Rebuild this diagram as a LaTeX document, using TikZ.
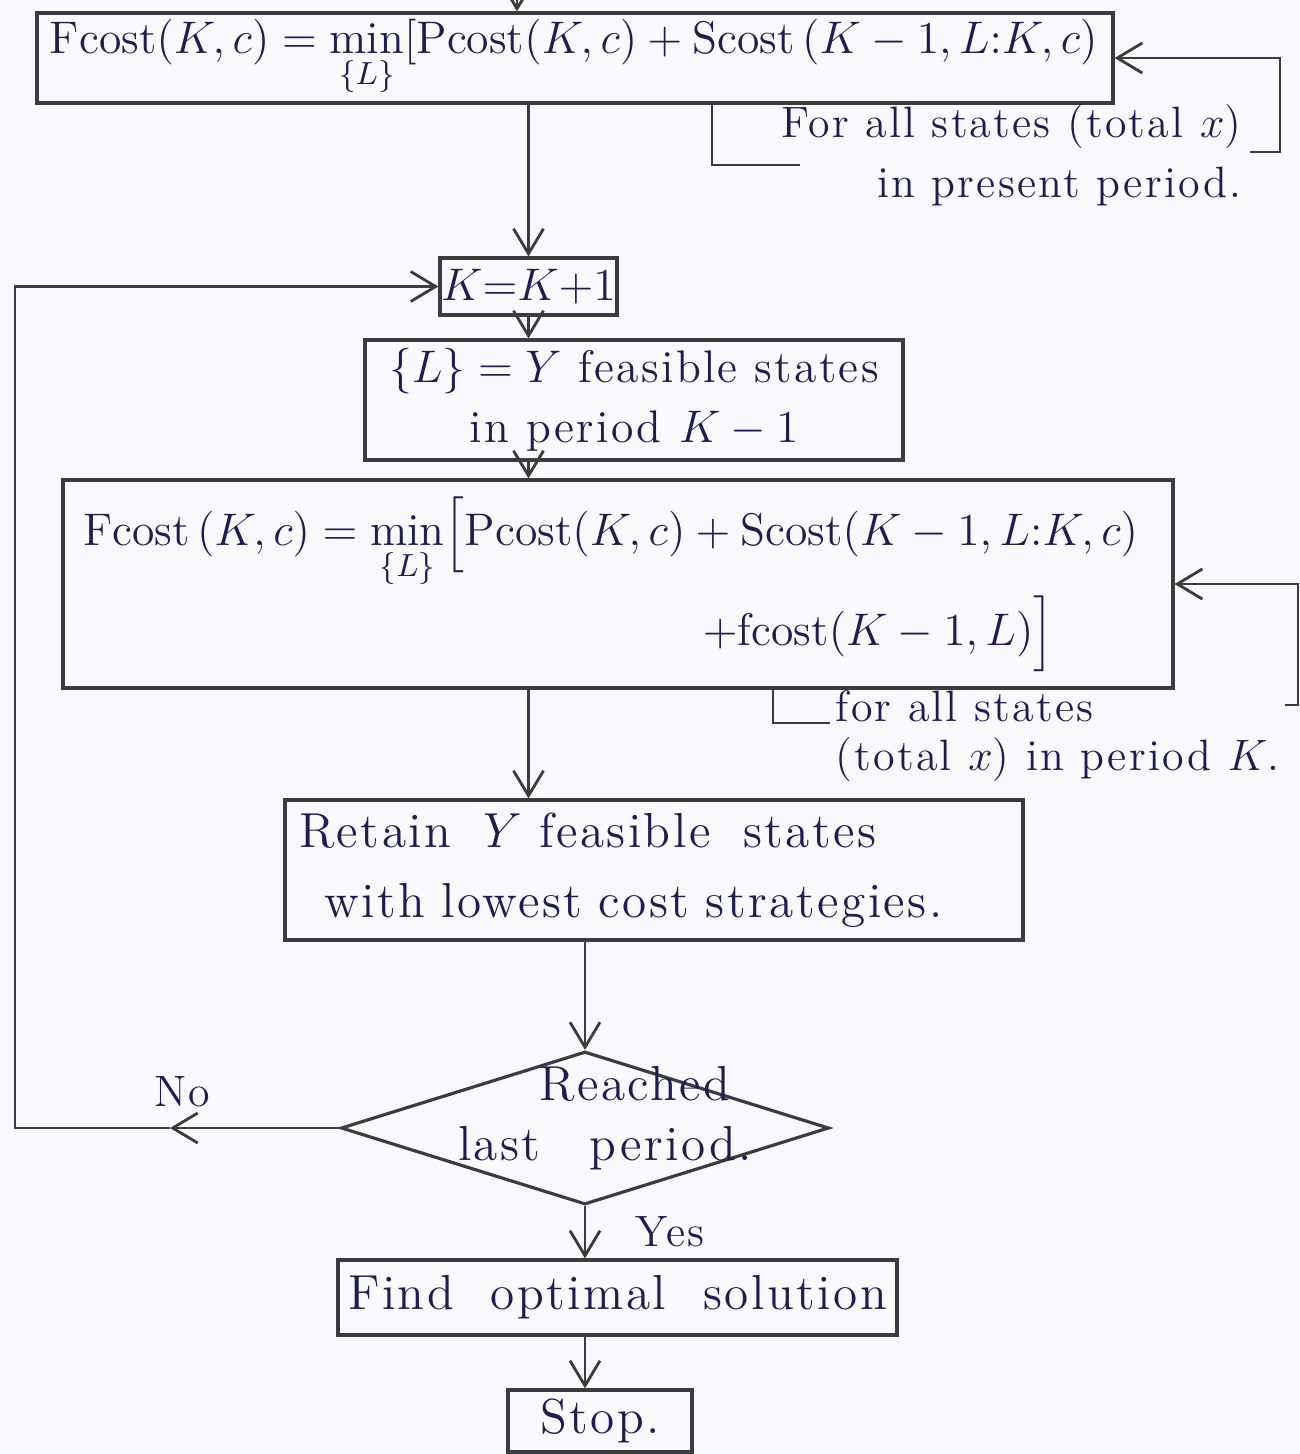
\documentclass[tikz,border=0pt]{standalone}
\usepackage{fix-cm}
\usepackage{amsmath}
\usepackage{fontspec}
\setmainfont{Latin Modern Roman}[LetterSpace=5.0]
\usetikzlibrary{arrows.meta,shapes.geometric}
\definecolor{ink}{RGB}{30,28,85}
\definecolor{pencil}{RGB}{60,60,60}
\definecolor{paper}{RGB}{249,248,253}
\tikzset{
    flowbox/.style={draw=pencil, line width=0.9pt, rectangle, inner sep=0pt, text=ink},
    decision/.style={draw=pencil, line width=0.9pt, diamond, inner sep=0pt},
    flow/.style={draw=pencil, line width=0.8pt, -{Straight Barb[length=2.5mm,width=3mm]}},
    loopline/.style={draw=pencil, line width=0.8pt},
    note/.style={text=ink, inner sep=0pt, font=\fontsize{12.5}{14}\selectfont},
    bigtext/.style={font=\fontsize{14}{20}\selectfont},
}

\begin{document}
\begin{tikzpicture}[font=\fontsize{13}{17}\selectfont]
            \fill[paper] (0,0) rectangle (13,-14.54);
            \useasboundingbox (0,0) rectangle (13,-14.54);

            \node[flowbox, minimum width=10.76cm, minimum height=0.9cm, text width=10.5cm, align=left] (top) at (5.75,-0.58)
                {$\mathrm{Fcost}(K,c)=\min\limits_{\{L\}}[\mathrm{Pcost}(K,c)+\mathrm{Scost}\,(K-1,L{:}K,c)$};
            \node[flowbox, minimum width=1.77cm, minimum height=0.57cm] (kbox) at (5.285,-2.865) {$K{=}K{+}1$};
            \node[flowbox, minimum width=5.38cm, minimum height=1.2cm, align=center] (lbox) at (6.34,-4.0)
                {$\{L\}=Y$ feasible states\\in period $K-1$};
            \node[flowbox, minimum width=11.1cm, minimum height=2.08cm, text width=10.7cm, align=left] (big) at (6.18,-5.84)
                {$\mathrm{Fcost}\,(K,c)=\min\limits_{\{L\}}\Bigl[\mathrm{Pcost}(K,c)+\mathrm{Scost}(K-1,L{:}K,c)$\\
                \hspace*{6.2cm}$+\mathrm{fcost}(K-1,L)\Bigr]$};
            \node[flowbox, bigtext, minimum width=7.38cm, minimum height=1.4cm, text width=7.1cm, align=left] (retain) at (6.54,-8.7)
                {Retain \ $Y$ feasible \ states\\ \hspace*{0.25cm}with lowest cost strategies.};
            \node[decision, minimum width=4.88cm, minimum height=1.53cm] (dec) at (5.85,-11.28) {};
            \node[bigtext, text=ink, align=center, inner sep=0pt] (dectext) at (6.05,-11.18) {\hspace*{0.6cm}Reached\\[-3pt]last\quad period.};
            \node[flowbox, bigtext, minimum width=5.59cm, minimum height=0.75cm] (find) at (6.175,-12.975) {Find \ optimal \ solution};
            \node[flowbox, bigtext, minimum width=1.84cm, minimum height=0.62cm] (stop) at (6.0,-14.21) {Stop.};

            \coordinate (entry) at (5.17,0);
            \draw[flow] (entry) -- (entry |- top.north);
            \draw[flow] (top.south -| kbox) -- (kbox.north);
            \draw[flow] (kbox.south) -- (kbox.south |- lbox.north);
            \draw[flow] (lbox.south -| kbox) -- (big.north -| kbox);
            \draw[flow] (big.south -| kbox) -- (kbox |- retain.north);
            \draw[flow] (retain.south -| dec) -- (dec.north);
            \draw[flow] (dec.south) -- (find.north -| dec);
            \draw[flow] (find.south -| dec) -- (stop.north -| dec);

            \coordinate (ret1a) at (12.50,-1.52);
            \coordinate (ret1b) at (12.80,-1.52);
            \coordinate (brk1) at (7.12,-1.65);
            \draw[flow] (ret1a) -- (ret1b) -- (ret1b |- top.east) -- (top.east);
            \draw[loopline] (top.south -| brk1) -- (brk1) -- ++(0.88,0);
            \node[note, anchor=east, align=right] (note1) at (12.42,-1.55) {For all states (total $x$)\\[3pt]in present period.};

            \coordinate (ret2a) at (12.85,-7.05);
            \coordinate (ret2b) at (12.98,-7.05);
            \coordinate (brk2) at (7.73,-7.23);
            \draw[flow] (ret2a) -- (ret2b) -- (ret2b |- big.east) -- (big.east);
            \draw[loopline] (big.south -| brk2) -- (brk2) -- ++(0.57,0);
            \node[note, anchor=north west, align=left] (note2) at (8.35,-6.9) {for all states\\(total $x$) in period $K$.};

            \coordinate (nomark) at (1.7,-11.28);
            \coordinate (rail) at (0.15,0);
            \draw[flow] (dec.west) -- (nomark);
            \draw[flow] (nomark) -- (rail |- nomark) -- (rail |- kbox.west) -- (kbox.west);
            \node[note] (nolabel) at (1.82,-10.92) {No};
            \node[note] (yeslabel) at (6.7,-12.32) {Yes};
\end{tikzpicture}
\end{document}
